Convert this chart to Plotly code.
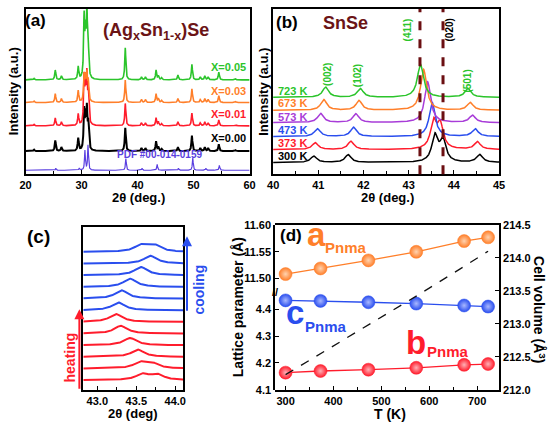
import numpy as np
import plotly.graph_objects as go

W, H = 554, 429
FONT = "Liberation Sans, Arial, Helvetica, sans-serif"

# ---------------- colours ----------------
GREEN = "#2BC42B"
ORANGE = "#FF7F2A"
RED = "#FF1C2C"
BLACK = "#000000"
PURPLE = "#A83CD8"
BLUE = "#2A4EEE"
PDFBLUE = "#5A3FE0"
DARKRED = "#6B1416"

# ---------------- panel (a) data ----------------
a_labels = ["PDF #00-014-0159", "X=0.00", "X=0.01", "X=0.03", "X=0.05"]
a_offsets = [4, 23.7, 49.7, 73.7, 97]
a_peak_pos = [21.5, 25.3, 26.4, 29.4, 30.45, 30.7, 30.95, 31.2, 37.8, 40.7, 41.4,
              43.3, 43.7, 44.3, 47.2, 49.7, 51.2, 52.0, 52.6, 54.5, 57.5]
a_h_x000 = [1.5, 11, 4, 13, 39, 30, 39, 25, 24, 3, 3, 10, 4, 2, 4, 16, 3, 4, 3, 7, 1]
a_h_x001 = [1.5, 8, 4, 11.7, 47, 35, 47, 30, 23, 3, 3, 8, 4, 2, 4, 13, 3, 4, 3, 6, 1]
a_h_x003 = [1.5, 9, 4, 12, 26, 22, 26, 20, 23, 3, 3, 8.7, 4, 2, 4, 14, 3, 4, 3, 7, 1]
a_h_x005 = [1.5, 10, 4, 13, 61, 40, 67, 26, 33, 3, 3, 10, 4, 2, 5, 16, 3, 4, 3, 8, 1]
a_pdf_pos = [25.4, 29.6, 30.6, 31.15, 37.9, 40.8, 43.5, 47.3, 49.85, 52.2, 54.6]
a_pdf_h = [2, 2, 20, 26, 12, 2, 6, 2, 13, 2, 5]

# ---------------- panel (b) data ----------------
b_labels = ["300 K", "373 K", "473 K", "573 K", "673 K", "723 K"]
b_offsets = [12, 25.3, 38.7, 53, 65.7, 79]
b_pos = [[40.90, 41.66, 43.58, 43.76, 44.57],
         [40.93, 41.72, 43.55, 43.70, 44.52],
         [40.98, 41.78, 43.52, 44.47],
         [41.05, 41.83, 43.42, 44.41],
         [41.12, 41.90, 43.33, 44.36],
         [41.16, 41.93, 43.26, 44.31]]
b_h = [[6.5, 8, 27, 22, 8],
       [7, 8.5, 27.7, 24, 8],
       [8, 9.5, 35, 8],
       [9.5, 9, 42, 7.5],
       [11, 10, 42, 8],
       [10.5, 9, 34, 9]]
b_colors = [BLACK, RED, BLUE, PURPLE, ORANGE, GREEN]
b_ref_lines = [43.25, 43.76]

# ---------------- panel (c) data ----------------
c_offsets = [10, 22, 34, 46, 58, 70, 82, 94, 106, 118, 130, 142]
c_pos = [[43.58, 43.77], [43.55, 43.70], [43.52], [43.42], [43.30], [43.24],
         [43.27], [43.31], [43.42], [43.56], [43.68], [43.56, 43.73]]
c_h = [[6, 5.5], [6, 5], [7.5], [7.5], [8], [8],
       [8], [8.5], [8.5], [8.5], [8], [6.5, 6.5]]
c_colors = [RED] * 6 + [BLUE] * 6

# ---------------- panel (d) data ----------------
d_T = [300, 373, 473, 573, 673, 723]
d_a = [11.5085, 11.519, 11.534, 11.550, 11.570, 11.577]
d_b = [4.164, 4.170, 4.175, 4.182, 4.193, 4.196]
d_c = [4.433, 4.431, 4.426, 4.421, 4.414, 4.410]
d_V = [212.23, 212.55, 212.98, 213.42, 213.87, 214.10]


def profile(x, centers, heights, hw):
    y = np.zeros_like(x)
    for c, h in zip(centers, heights):
        y += h / (1 + ((x - c) / hw) ** 2)
    return y


def px(x):
    return x / W


def py(y):
    return 1 - y / H


fig = go.Figure()

# ---- (a)
xa = np.arange(20, 60.0001, 0.02)
fig.add_trace(go.Scatter(x=xa, y=a_offsets[0] + profile(xa, a_pdf_pos, a_pdf_h, 0.09),
                         mode="lines", line=dict(color=PDFBLUE, width=1.2),
                         xaxis="x", yaxis="y", hoverinfo="skip"))
for h, off, col, lw in [(a_h_x000, a_offsets[1], BLACK, 2.0), (a_h_x001, a_offsets[2], RED, 1.6),
                        (a_h_x003, a_offsets[3], ORANGE, 1.6), (a_h_x005, a_offsets[4], GREEN, 1.6)]:
    fig.add_trace(go.Scatter(x=xa, y=off + profile(xa, a_peak_pos, h, 0.11),
                             mode="lines", line=dict(color=col, width=lw),
                             xaxis="x", yaxis="y", hoverinfo="skip"))

# ---- (b)
xb = np.arange(40, 45.0001, 0.005)
for pos, h, off, col in zip(b_pos, b_h, b_offsets, b_colors):
    ys = off + profile(xb, pos, h, 0.08)
    fig.add_trace(go.Scatter(x=xb, y=ys, mode="lines", line=dict(color=col, width=1.5),
                             xaxis="x2", yaxis="y2", hoverinfo="skip"))

# ---- (c)
xc = np.arange(42.82, 44.1001, 0.005)
for pos, h, off, col in zip(c_pos, c_h, c_offsets, c_colors):
    ys = off + profile(xc, pos, h, 0.1)
    fig.add_trace(go.Scatter(x=xc, y=ys, mode="lines", line=dict(color=col, width=2),
                             xaxis="x3", yaxis="y3", hoverinfo="skip"))

# ---- (d)
fig.add_trace(go.Scatter(x=d_T, y=d_V, mode="lines", line=dict(color="#111", width=1.3, dash="dash"),
                         xaxis="x4", yaxis="y6", hoverinfo="skip"))


def balls(y, col, light, axis):
    return go.Scatter(x=d_T, y=y, mode="lines+markers", xaxis="x4", yaxis=axis,
                      line=dict(color=col, width=1.3),
                      marker=dict(size=13, color=col, line=dict(color=col, width=0.5),
                                  gradient=dict(type="radial", color=light)),
                      hoverinfo="skip")


fig.add_trace(balls(d_a, ORANGE, "#FFD3B0", "y4"))
fig.add_trace(balls(d_c, BLUE, "#A9B8FF", "y5"))
fig.add_trace(balls(d_b, RED, "#FFB0B6", "y5"))

axis_common = dict(showline=True, linecolor="black", linewidth=1.5, showgrid=False, zeroline=False,
                   tickfont=dict(family=FONT, size=11, color="black", weight="bold"),
                   ticks="inside", ticklen=4, tickwidth=1.2, tickcolor="black")

fig.update_layout(
    width=W, height=H, margin=dict(l=0, r=0, t=0, b=0),
    paper_bgcolor="white", plot_bgcolor="rgba(0,0,0,0)", showlegend=False,
    font=dict(family=FONT, color="black"),
    xaxis=dict(domain=[px(20), px(249)], range=[19.999, 60.001], anchor="y", tickvals=[20, 30, 40, 50, 60],
               minor=dict(dtick=5, ticks="inside", ticklen=3, tickcolor="black"), mirror=True, **axis_common),
    yaxis=dict(domain=[py(173), py(3)], range=[0, 170], anchor="x", showticklabels=False,
               mirror=True, **{**axis_common, "ticks": ""}),
    xaxis2=dict(domain=[px(273), px(504)], range=[39.999, 45.001], anchor="y2", tickvals=[40, 41, 42, 43, 44, 45],
                minor=dict(dtick=0.5, ticks="inside", ticklen=3, tickcolor="black"), mirror=True, **axis_common),
    yaxis2=dict(domain=[py(173), py(3)], range=[0, 170], anchor="x2", showticklabels=False,
                mirror=True, **{**axis_common, "ticks": ""}),
    xaxis3=dict(domain=[px(79), px(181)], range=[42.82, 44.1], anchor="y3", tickvals=[43.0, 43.5, 44.0],
                ticktext=["43.0", "43.5", "44.0"],
                minor=dict(tickvals=[43.25, 43.75], ticks="inside", ticklen=3, tickcolor="black"),
                mirror=True, **axis_common),
    yaxis3=dict(domain=[py(395), py(227)], range=[0, 168], anchor="x3", showticklabels=False,
                mirror=True, **{**axis_common, "ticks": ""}),
    xaxis4=dict(domain=[px(275), px(504)], range=[278, 746], anchor="y6", tickvals=[300, 400, 500, 600, 700],
                minor=dict(dtick=50, ticks="inside", ticklen=3, tickcolor="black"), mirror=True, **axis_common),
    yaxis4=dict(domain=[py(294), py(225)], range=[11.4755, 11.6005], anchor="x4", side="left",
                tickvals=[11.50, 11.55, 11.60], ticktext=["11.50", "11.55", "11.60"], **axis_common),
    yaxis5=dict(domain=[py(395), py(294)], range=[4.0995, 4.465], anchor="x4", side="left",
                tickvals=[4.1, 4.2, 4.3, 4.4], ticktext=["4.1", "4.2", "4.3", "4.4"], **axis_common),
    yaxis6=dict(domain=[py(395), py(225)], range=[211.998, 214.502], anchor="x4", side="right",
                tickvals=[212.0, 212.5, 213.0, 213.5, 214.0, 214.5],
                ticktext=["212.0", "212.5", "213.0", "213.5", "214.0", "214.5"], **axis_common),
)

shapes = []
for xv in b_ref_lines:
    shapes.append(dict(type="line", xref="x2", yref="y2 domain", x0=xv, x1=xv, y0=0, y1=1,
                       line=dict(color="#6B0F12", width=3, dash="dash")))
fig.update_layout(shapes=shapes)

ann = []


def add(text, x, y, size, color="black", angle=0, xanchor="center", yanchor="middle"):
    ann.append(dict(text=text, x=px(x), y=py(y), xref="paper", yref="paper", showarrow=False,
                    xanchor=xanchor, yanchor=yanchor, textangle=angle,
                    font=dict(family=FONT, size=size, color=color, weight="bold")))


# (a)
add("(a)", 30, 15, 17)
add("(Ag<sub>x</sub>Sn<sub>1-x</sub>)Se", 153, 26, 18, DARKRED)
for lab, yy, col in [("X=0.05", 63, GREEN), ("X=0.03", 87, ORANGE), ("X=0.01", 111, RED), ("X=0.00", 136, BLACK)]:
    add(lab, 227, yy, 11, col)
add(a_labels[0], 157, 153, 10, PDFBLUE)
add("Intensity (a.u.)", 8, 88, 13, angle=-90)
add("2θ (deg.)", 135, 197, 13)
# (b)
add("(b)", 287, 17, 17)
add("SnSe", 347, 17, 18, DARKRED)
for lab, yy, col in zip(b_labels, [154.3, 141, 127.7, 114.3, 100, 87.3], b_colors):
    add(lab, 276, yy, 11, col, xanchor="left")
for lab, xx, yy, col in [("(002)", 328, 70, GREEN), ("(102)", 360, 72, GREEN), ("(411)", 410, 25, GREEN),
                         ("(020)", 453, 25, BLACK), ("(501)", 472, 77, GREEN)]:
    add(lab, xx, yy, 10, col, angle=-90)
add("Intensity (a.u.)", 263, 88, 13, angle=-90)
add("2θ (deg.)", 390, 197, 13)
# (c)
add("(c)", 33, 237, 19)
add("heating", 65, 362, 14, RED, angle=-90)
add("cooling", 197, 292, 14, BLUE, angle=-90)
add("2θ (deg)", 130, 419, 13)
# (d)
add("(d)", 291, 236, 17)
add("a", 317, 235, 33, ORANGE)
add("Pnma", 348, 248, 15, ORANGE)
add("c", 295, 315, 33, BLUE)
add("Pnma", 327, 330, 15, BLUE)
add("b", 419, 346, 33, RED)
add("Pnma", 452, 355, 15, RED)
add("//", 275, 294, 11)
add("Lattice parameter (Å)", 237, 310, 14, angle=-90)
add("Cell volume (Å<sup>3</sup>)", 545, 312, 14, angle=90)
add("T (K)", 392, 420, 14)

# arrows in (c)
ann.append(dict(x=px(75), y=py(312), xref="paper", yref="paper", ax=0, ay=81, text="",
                showarrow=True, arrowhead=2, arrowsize=1, arrowwidth=2, arrowcolor=RED))
ann.append(dict(x=px(185), y=py(237), xref="paper", yref="paper", ax=0, ay=76, text="",
                showarrow=True, arrowhead=2, arrowsize=1, arrowwidth=2, arrowcolor=BLUE))

fig.update_layout(annotations=ann)
fig.write_html("out.html", config={"displayModeBar": False},
               post_script="document.body.style.margin='0px';document.body.style.overflow='hidden';")
